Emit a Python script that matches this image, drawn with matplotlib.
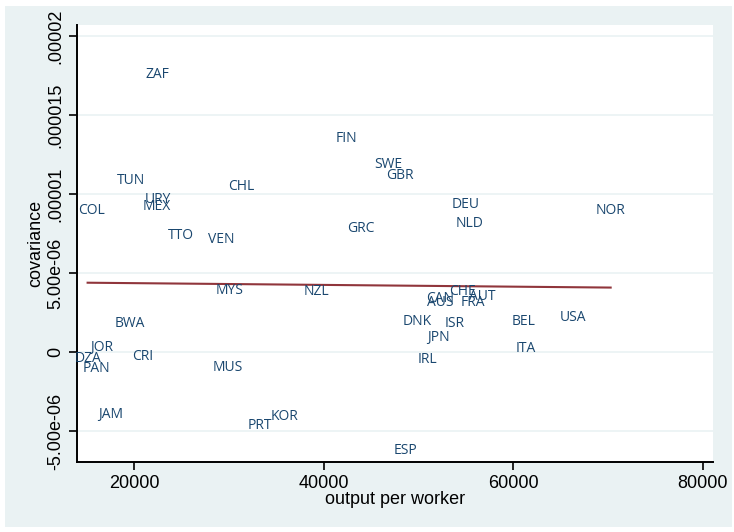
import numpy as np
import matplotlib
matplotlib.use("Agg")
import matplotlib.pyplot as plt
from matplotlib.patches import Rectangle

# Country codes with output per worker and covariance
countries = ["ZAF", "FIN", "SWE", "GBR", "TUN", "CHL", "URY", "MEX", "COL", "DEU",
             "NOR", "NLD", "GRC", "TTO", "VEN", "MYS", "NZL", "CHE", "AUT", "CAN",
             "AUS", "FRA", "DNK", "ISR", "JPN", "IRL", "BEL", "USA", "ITA", "BWA",
             "JOR", "DZA", "PAN", "CRI", "MUS", "JAM", "PRT", "KOR", "ESP"]
output_per_worker = [22430, 42410, 46850, 48010, 19680, 31310, 22540, 22430, 15560, 54990,
                     70300, 55410, 43890, 24970, 29200, 30040, 39240, 54670, 56780, 52340,
                     52340, 55730, 49880, 53860, 52170, 50940, 61150, 66330, 61330, 19580,
                     16590, 15100, 16060, 20920, 29860, 17570, 33320, 35860, 48680]
covariance = [1.757e-5, 1.353e-5, 1.189e-5, 1.119e-5, 1.088e-5, 1.050e-5, 9.68e-6, 9.24e-6, 8.98e-6, 9.36e-6,
              8.98e-6, 8.16e-6, 7.85e-6, 7.41e-6, 7.15e-6, 3.93e-6, 3.87e-6, 3.87e-6, 3.55e-6, 3.43e-6,
              3.13e-6, 3.18e-6, 1.93e-6, 1.83e-6, 9.2e-7, -4.4e-7, 1.93e-6, 2.18e-6, 2.5e-7, 1.83e-6,
              2.9e-7, -4.0e-7, -1.01e-6, -2.8e-7, -9.7e-7, -3.90e-6, -4.65e-6, -4.08e-6, -6.23e-6]

x_ticks = [20000, 40000, 60000, 80000]
x_tick_labels = ["20000", "40000", "60000", "80000"]
y_ticks = [-5e-6, 0, 5e-6, 1e-5, 1.5e-5, 2e-5]
y_tick_labels = ["-5.00e-06", "0", "5.00e-06", ".00001", ".000015", ".00002"]

LABEL_COLOR = "#1a476f"
FIT_COLOR = "#90353b"
BG_COLOR = "#eaf2f3"
FONT = "Liberation Sans"
LABEL_FONT = "Open Sans"

W, H = 734, 532
fig = plt.figure(figsize=(W / 100, H / 100), dpi=100)
fig.patch.set_facecolor("white")
fig.add_artist(Rectangle((5 / W, 5 / H), (732 - 5) / W, (527 - 6) / H,
                         transform=fig.transFigure, facecolor=BG_COLOR,
                         edgecolor="none", zorder=0))

left, right, top, bottom = 77, 713, 25, 462
ax = fig.add_axes([left / W, 1 - bottom / H, (right - left) / W, (bottom - top) / H])
ax.set_facecolor("white")
ax.set_zorder(1)

x = np.array(output_per_worker, dtype=float)
y = np.array(covariance, dtype=float)

for name, xi, yi in zip(countries, x, y):
    ax.text(xi, yi, name, ha="center", va="center", color=LABEL_COLOR,
            fontsize=10, family=LABEL_FONT)

# Linear fit over the observed range
slope, intercept = np.polyfit(x, y, 1)
xs = np.array([x.min(), x.max()])
ax.plot(xs, intercept + slope * xs, color=FIT_COLOR, lw=1.5, zorder=2)

ax.set_xlim(13980, 81100)
ax.set_ylim(-6.93e-6, 2.07e-5)

ax.set_xticks(x_ticks)
ax.set_xticklabels(x_tick_labels, fontsize=13, family=FONT)
ax.set_yticks(y_ticks)
ax.set_yticklabels(y_tick_labels, fontsize=13, family=FONT, rotation=90, va="center")

ax.grid(axis="y", color=BG_COLOR, lw=1.2)
ax.set_axisbelow(True)
for s in ["top", "right"]:
    ax.spines[s].set_visible(False)
for s in ["left", "bottom"]:
    ax.spines[s].set_linewidth(1.4)
    ax.spines[s].set_color("black")
ax.tick_params(axis="both", length=6, width=1.2, color="black", pad=3)

ax.set_xlabel("output per worker", fontsize=13, family=FONT, labelpad=0)
ax.set_ylabel("covariance", fontsize=13, family=FONT, labelpad=2)

fig.savefig("out.png", dpi=100)
